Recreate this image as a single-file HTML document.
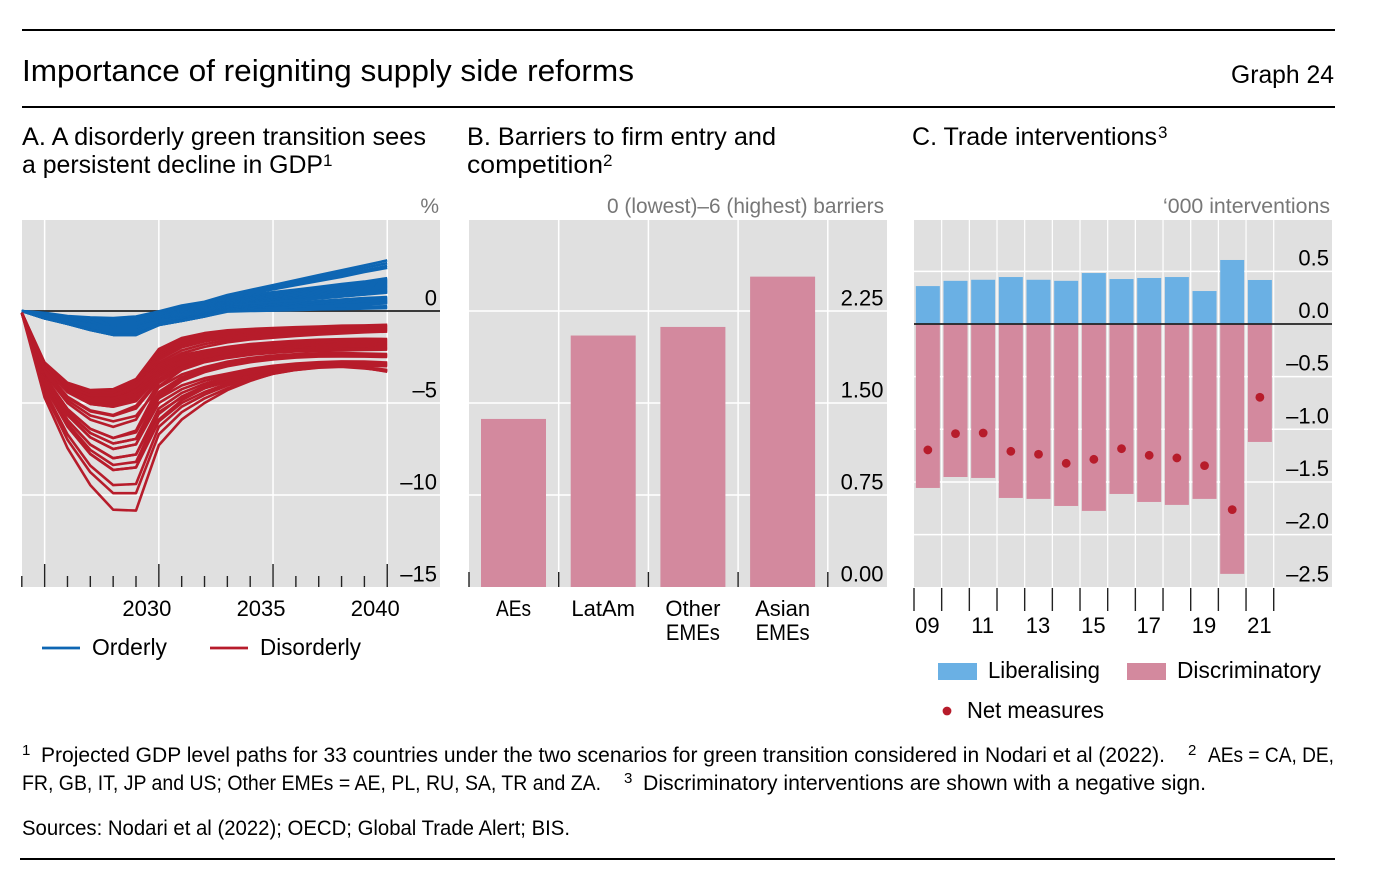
<!DOCTYPE html>
<html lang="en">
<head>
<meta charset="utf-8">
<title>Importance of reigniting supply side reforms</title>
<style>
html,body{margin:0;padding:0;background:#fff;width:1390px;height:890px;overflow:hidden}
svg{display:block}
text{font-family:"Liberation Sans",Arial,sans-serif;fill:#000}
.tt{font-size:25px}
.tick{font-size:22px}
.unit{font-size:21px;fill:#777}
.fn{font-size:21px}
.sup{font-size:15px}
.tsup{font-size:17px}
</style>
</head>
<body>
<svg id="chart" width="1390" height="890" viewBox="0 0 1390 890" xmlns="http://www.w3.org/2000/svg">
  <rect x="22" y="29" width="1313" height="2" fill="#000"/>
  <text x="22" y="81" font-size="31" textLength="612" lengthAdjust="spacingAndGlyphs">Importance of reigniting supply side reforms</text>
  <text x="1231" y="83" font-size="25" textLength="103" lengthAdjust="spacingAndGlyphs">Graph 24</text>
  <rect x="22" y="106" width="1313" height="2" fill="#000"/>

  <text class="tt" x="22" y="145" textLength="404" lengthAdjust="spacingAndGlyphs">A. A disorderly green transition sees</text>
  <text class="tt" x="22" y="173" textLength="301" lengthAdjust="spacingAndGlyphs">a persistent decline in GDP</text>
  <text class="tsup" x="323" y="166">1</text>
  <text class="tt" x="467" y="145" textLength="309" lengthAdjust="spacingAndGlyphs">B. Barriers to firm entry and</text>
  <text class="tt" x="467" y="173" textLength="136" lengthAdjust="spacingAndGlyphs">competition</text>
  <text class="tsup" x="603" y="166">2</text>
  <text class="tt" x="912" y="145" textLength="245" lengthAdjust="spacingAndGlyphs">C. Trade interventions</text>
  <text class="tsup" x="1158" y="138">3</text>

  <text class="unit" x="439" y="213" text-anchor="end">%</text>
  <text class="unit" x="607" y="213" textLength="277" lengthAdjust="spacingAndGlyphs">0 (lowest)–6 (highest) barriers</text>
  <text class="unit" x="1163" y="213" textLength="167" lengthAdjust="spacingAndGlyphs">‘000 interventions</text>

  <rect x="22" y="220" width="418" height="367" fill="#e0e0e0"/>
  <rect x="469" y="220" width="418" height="367" fill="#e0e0e0"/>
  <rect x="914" y="220" width="418" height="367" fill="#e0e0e0"/>
  <g id="panelA"></g>
  <g id="panelB"></g>
  <g id="panelC"></g>

  <line x1="42" x2="80" y1="648" y2="648" stroke="#0e66b3" stroke-width="2.8"/>
  <text x="92" y="655" font-size="23" textLength="75" lengthAdjust="spacingAndGlyphs">Orderly</text>
  <line x1="210" x2="248" y1="648" y2="648" stroke="#b71c2b" stroke-width="2.8"/>
  <text x="260" y="655" font-size="23" textLength="101" lengthAdjust="spacingAndGlyphs">Disorderly</text>

  <rect x="938" y="663" width="39" height="17" fill="#6ab0e4"/>
  <text x="988" y="678" font-size="23" textLength="112" lengthAdjust="spacingAndGlyphs">Liberalising</text>
  <rect x="1127" y="663" width="39" height="17" fill="#d3899e"/>
  <text x="1177" y="678" font-size="23" textLength="144" lengthAdjust="spacingAndGlyphs">Discriminatory</text>
  <circle cx="947" cy="711" r="4.4" fill="#b71c2b"/>
  <text x="967" y="718" font-size="23" textLength="137" lengthAdjust="spacingAndGlyphs">Net measures</text>

  <text class="sup" x="22" y="755">1</text>
  <text class="fn" x="41" y="762" textLength="1124" lengthAdjust="spacingAndGlyphs">Projected GDP level paths for 33 countries under the two scenarios for green transition considered in Nodari et al (2022).</text>
  <text class="sup" x="1188" y="755">2</text>
  <text class="fn" x="1208" y="762" textLength="126" lengthAdjust="spacingAndGlyphs">AEs = CA, DE,</text>
  <text class="fn" x="22" y="790" textLength="579" lengthAdjust="spacingAndGlyphs">FR, GB, IT, JP and US; Other EMEs = AE, PL, RU, SA, TR and ZA.</text>
  <text class="sup" x="624" y="783">3</text>
  <text class="fn" x="643" y="790" textLength="563" lengthAdjust="spacingAndGlyphs">Discriminatory interventions are shown with a negative sign.</text>
  <text class="fn" x="22" y="835" textLength="548" lengthAdjust="spacingAndGlyphs">Sources: Nodari et al (2022); OECD; Global Trade Alert; BIS.</text>
  <rect x="20" y="858" width="1315" height="2" fill="#000"/>
</svg>

<script>
// ---------- Panel A data ----------
const yearsA = [2024,2025,2026,2027,2028,2029,2030,2031,2032,2033,2034,2035,2036,2037,2038,2039,2040];
const yTicksA = [0,-5,-10,-15];
const yTickLabelsA = ["0","–5","–10","–15"];
const xLabelYearsA = [2030,2035,2040];
const orderly = [
[0,-.1,-.27,-.35,-.38,-.3,-.02,.3,.5,.87,1.14,1.41,1.68,1.95,2.21,2.48,2.75],
[0,-.12,-.3,-.4,-.45,-.35,-.05,.27,.47,.82,1.07,1.33,1.58,1.84,2.09,2.35,2.6],
[0,-.14,-.32,-.45,-.5,-.4,-.08,.25,.45,.78,1.02,1.25,1.49,1.73,1.97,2.21,2.45],
[0,-.15,-.35,-.5,-.55,-.45,-.1,.22,.42,.72,.95,1.18,1.41,1.63,1.86,2.12,2.35],
[0,-.15,-.35,-.48,-.55,-.45,-.1,.2,.4,.72,.87,1.02,1.16,1.31,1.46,1.6,1.78],
[0,-.16,-.38,-.52,-.6,-.5,-.14,.18,.37,.68,.83,.97,1.12,1.26,1.41,1.55,1.72],
[0,-.18,-.4,-.56,-.65,-.55,-.18,.15,.34,.64,.78,.93,1.07,1.21,1.36,1.5,1.67],
[0,-.2,-.42,-.6,-.7,-.6,-.22,.12,.31,.6,.74,.89,1.03,1.17,1.31,1.46,1.62],
[0,-.22,-.45,-.64,-.75,-.66,-.26,.1,.28,.58,.72,.86,.99,1.13,1.27,1.41,1.57],
[0,-.24,-.47,-.68,-.8,-.72,-.3,.07,.25,.55,.69,.82,.96,1.09,1.23,1.36,1.52],
[0,-.26,-.5,-.72,-.85,-.78,-.34,.04,.22,.52,.65,.79,.92,1.05,1.18,1.32,1.47],
[0,-.28,-.52,-.76,-.9,-.84,-.38,.01,.19,.5,.63,.76,.89,1.01,1.14,1.27,1.42],
[0,-.3,-.55,-.8,-.95,-.9,-.42,-.02,.16,.46,.59,.71,.84,.97,1.1,1.22,1.37],
[0,-.32,-.57,-.84,-1,-.96,-.46,-.06,.13,.44,.56,.69,.81,.93,1.05,1.18,1.32],
[0,-.34,-.6,-.88,-1.05,-1.02,-.5,-.1,.1,.4,.52,.64,.76,.89,1.01,1.13,1.27],
[0,-.36,-.62,-.92,-1.1,-1.08,-.54,-.14,.07,.38,.5,.61,.73,.85,.97,1.08,1.22],
[0,-.38,-.65,-.95,-1.15,-1.14,-.58,-.18,.04,.35,.46,.58,.69,.81,.92,1.04,1.17],
[0,-.4,-.67,-1,-1.2,-1.2,-.62,-.22,.01,.33,.44,.55,.66,.77,.88,.99,1.12],
[0,-.38,-.68,-1.02,-1.25,-1.25,-.66,-.26,-.02,.3,.41,.51,.62,.73,.84,.94,1.08],
[0,-.4,-.7,-1.03,-1.3,-1.3,-.72,-.3,-.06,.28,.38,.49,.59,.69,.79,.9,1.04],
[0,-.4,-.7,-1,-1.28,-1.28,-.76,-.34,-.1,.25,.36,.46,.57,.68,.79,.89,1],
[0,-.3,-.6,-.85,-1,-1,-.6,-.4,-.14,.22,.3,.38,.46,.54,.62,.7,.76],
[0,-.28,-.58,-.8,-.95,-.95,-.55,-.38,-.16,.2,.27,.35,.42,.5,.57,.65,.71],
[0,-.32,-.62,-.9,-1.1,-1.1,-.65,-.42,-.18,.18,.25,.32,.39,.46,.53,.6,.66],
[0,-.34,-.64,-.95,-1.15,-1.15,-.7,-.45,-.2,.15,.22,.28,.35,.42,.49,.55,.61],
[0,-.36,-.66,-.98,-1.2,-1.2,-.72,-.48,-.22,.12,.18,.25,.31,.38,.44,.51,.56],
[0,-.25,-.5,-.75,-.9,-.88,-.6,-.5,-.24,.1,.16,.22,.28,.34,.4,.46,.52],
[0,-.3,-.55,-.8,-1.05,-1.05,-.66,-.52,-.26,.08,.14,.19,.25,.3,.36,.41,.48],
[0,-.33,-.6,-.88,-1.12,-1.12,-.7,-.53,-.28,.06,.11,.17,.22,.27,.32,.38,.45],
[0,-.35,-.65,-.95,-1.22,-1.22,-.74,-.54,-.29,.04,.09,.14,.19,.25,.3,.35,.42],
[0,-.4,-.68,-1,-1.27,-1.27,-.76,-.54,-.3,.02,.06,.09,.13,.16,.2,.23,.26],
[0,-.38,-.7,-1.03,-1.3,-1.3,-.76,-.54,-.3,0,.03,.06,.09,.11,.14,.17,.2],
[0,-.4,-.7,-1.03,-1.3,-1.3,-.76,-.54,-.3,-.03,0,.02,.05,.08,.1,.13,.16]
];
const disorderly = [
[-.1,-2.8,-3.9,-4.3,-4.25,-3.7,-2.07,-1.47,-1.2,-1.05,-.98,-.93,-.88,-.84,-.8,-.78,-.75],
[-.1,-2.85,-3.95,-4.4,-4.35,-3.8,-2.2,-1.58,-1.3,-1.14,-1.05,-.99,-.94,-.9,-.86,-.83,-.8],
[-.1,-2.9,-4,-4.5,-4.45,-3.9,-2.32,-1.68,-1.39,-1.22,-1.12,-1.05,-1,-.95,-.91,-.88,-.85],
[-.1,-2.95,-4.05,-4.6,-4.55,-4,-2.44,-1.78,-1.48,-1.3,-1.19,-1.12,-1.06,-1.01,-.97,-.93,-.9],
[-.1,-2.95,-4.1,-4.65,-4.65,-4.1,-2.55,-1.88,-1.57,-1.38,-1.26,-1.18,-1.12,-1.06,-1.02,-.98,-.95],
[-.1,-3,-4.15,-4.7,-4.75,-4.2,-2.66,-1.98,-1.66,-1.47,-1.34,-1.25,-1.18,-1.12,-1.07,-1.03,-1],
[-.1,-3,-4.2,-4.75,-4.85,-4.3,-2.8,-2.14,-1.8,-1.58,-1.43,-1.33,-1.25,-1.18,-1.13,-1.09,-1.05],
[-.1,-3.05,-4.25,-4.85,-4.95,-4.4,-2.93,-2.3,-1.95,-1.7,-1.55,-1.45,-1.36,-1.28,-1.22,-1.16,-1.12],
[-.1,-2.9,-4.1,-4.6,-4.6,-4.1,-2.95,-2.4,-2.15,-1.95,-1.8,-1.7,-1.62,-1.56,-1.53,-1.51,-1.52],
[-.1,-3,-4.2,-4.75,-4.8,-4.35,-3.05,-2.5,-2.22,-2.02,-1.88,-1.78,-1.7,-1.65,-1.61,-1.58,-1.58],
[-.1,-3,-4.25,-4.8,-4.9,-4.5,-3.15,-2.58,-2.28,-2.08,-1.95,-1.85,-1.77,-1.72,-1.68,-1.65,-1.64],
[-.1,-3.05,-4.3,-4.9,-5,-4.6,-3.25,-2.65,-2.35,-2.15,-2,-1.9,-1.83,-1.78,-1.75,-1.72,-1.7],
[-.1,-3.1,-4.35,-5,-5.1,-4.7,-3.35,-2.72,-2.42,-2.2,-2.05,-1.96,-1.89,-1.84,-1.81,-1.78,-1.76],
[-.1,-3.08,-4.41,-5.05,-5.2,-4.8,-3.45,-2.8,-2.48,-2.25,-2.1,-2,-1.94,-1.9,-1.87,-1.85,-1.82],
[-.1,-3.08,-4.41,-5.05,-5.2,-4.9,-3.55,-2.9,-2.55,-2.32,-2.17,-2.07,-2,-1.96,-1.93,-1.91,-1.88],
[-.1,-3.2,-4.66,-5.4,-5.65,-5.15,-3.7,-3,-2.62,-2.38,-2.22,-2.12,-2.05,-2,-1.98,-1.97,-1.94],
[-.1,-3.22,-4.7,-5.45,-5.7,-5.3,-3.8,-3.05,-2.66,-2.42,-2.26,-2.16,-2.09,-2.05,-2.03,-2.03,-2],
[-.1,-3.4,-5,-5.9,-6.3,-5.9,-3.9,-3.1,-2.7,-2.45,-2.3,-2.2,-2.13,-2.1,-2.08,-2.06,-2.05],
[-.1,-3.57,-5.33,-6.4,-6.9,-6.5,-4.1,-3.2,-2.78,-2.55,-2.38,-2.27,-2.2,-2.17,-2.14,-2.12,-2.1],
[-.1,-3.3,-4.85,-5.68,-6,-5.7,-4.15,-3.45,-3.05,-2.75,-2.55,-2.42,-2.35,-2.3,-2.29,-2.31,-2.34],
[-.1,-3.57,-5.33,-6.4,-6.9,-6.6,-4.4,-3.6,-3.15,-2.85,-2.65,-2.5,-2.42,-2.37,-2.36,-2.37,-2.4],
[-.1,-3.65,-5.5,-6.63,-7.2,-6.95,-4.55,-3.7,-3.25,-2.93,-2.72,-2.58,-2.48,-2.43,-2.42,-2.43,-2.45],
[-.1,-3.74,-5.66,-6.87,-7.5,-7.25,-4.7,-3.8,-3.32,-3,-2.78,-2.63,-2.53,-2.48,-2.47,-2.48,-2.5],
[-.1,-3.65,-5.5,-6.63,-7.2,-6.95,-4.75,-4.05,-3.65,-3.4,-3.15,-2.98,-2.86,-2.78,-2.74,-2.75,-2.8],
[-.1,-3.74,-5.66,-6.87,-7.5,-7.25,-5,-4.25,-3.8,-3.5,-3.25,-3.05,-2.93,-2.85,-2.8,-2.81,-2.85],
[-.1,-3.89,-5.93,-7.26,-8,-7.8,-5.3,-4.45,-3.95,-3.6,-3.33,-3.13,-3,-2.92,-2.88,-2.88,-2.9],
[-.1,-4,-6.12,-7.55,-8.37,-8.2,-5.6,-4.65,-4.08,-3.7,-3.42,-3.2,-3.06,-2.97,-2.94,-2.94,-2.95],
[-.1,-4.07,-6.27,-7.77,-8.64,-8.5,-5.9,-4.85,-4.2,-3.8,-3.5,-3.27,-3.1,-3,-2.97,-2.98,-3],
[-.1,-3.89,-5.93,-7.26,-8,-7.8,-5.5,-4.7,-4.2,-3.85,-3.55,-3.3,-3.12,-3.02,-2.98,-3.06,-3.2],
[-.1,-4.07,-6.27,-7.77,-8.64,-8.5,-6,-5,-4.4,-3.95,-3.62,-3.36,-3.17,-3.05,-3,-3.08,-3.22],
[-.1,-4.3,-6.7,-8.4,-9.46,-9.4,-6.3,-5.2,-4.55,-4.05,-3.68,-3.4,-3.2,-3.08,-3.03,-3.12,-3.25],
[-.1,-4.44,-7,-8.76,-9.9,-9.9,-6.7,-5.5,-4.75,-4.2,-3.75,-3.42,-3.2,-3.06,-3,-3.1,-3.28],
[-.1,-4.7,-7.45,-9.46,-10.8,-10.85,-7.3,-5.9,-5,-4.3,-3.8,-3.4,-3.15,-3,-2.95,-3.1,-3.3]
];

// ---------- Panel B data ----------
const categoriesB = [["AEs"],["LatAm"],["Other","EMEs"],["Asian","EMEs"]];
const barriers = [1.37,2.05,2.12,2.53];
const yTicksB = [0,0.75,1.5,2.25];
const yTickLabelsB = ["0.00","0.75","1.50","2.25"];

// ---------- Panel C data ----------
const yearsC = ["09","10","11","12","13","14","15","16","17","18","19","20","21"];
const liberalising = [.36,.41,.42,.446,.42,.41,.484,.427,.437,.446,.313,.608,.418];
const discriminatory = [-1.557,-1.453,-1.462,-1.652,-1.661,-1.728,-1.775,-1.614,-1.69,-1.718,-1.661,-2.373,-1.12];
const netMeasures = [-1.196,-1.041,-1.035,-1.209,-1.237,-1.323,-1.285,-1.184,-1.247,-1.272,-1.345,-1.763,-.696];
const yTicksC = [0.5,0,-0.5,-1,-1.5,-2,-2.5];
const yTickLabelsC = ["0.5","0.0","–0.5","–1.0","–1.5","–2.0","–2.5"];
const xLabelYearsC = ["09","11","13","15","17","19","21"];

const NS = "http://www.w3.org/2000/svg";
function mk(parent, tag, attrs, content) {
  const el = document.createElementNS(NS, tag);
  for (const k in attrs) el.setAttribute(k, attrs[k]);
  if (content !== undefined) el.textContent = content;
  parent.appendChild(el);
  return el;
}

// ---------- Panel A ----------
(function () {
  const g = document.getElementById("panelA");
  const xA = y => 21.8 + (y - 2024) * 22.84;
  const yA = v => 311 - v * 18.4;
  yTicksA.slice(1, 3).forEach(v => {
    const el = mk(g, "line", {x1: 22, x2: 440, y1: yA(v), y2: yA(v), stroke: "#fff", "stroke-width": 1.5});
    
    
  });
  xLabelYearsA.concat([2025]).forEach(y => {
    const el = mk(g, "line", {x1: xA(y), x2: xA(y), y1: 220, y2: 587, stroke: "#fff", "stroke-width": 1.5});
    
    
  });
  const zero = mk(g, "line", {x1: 22, x2: 440, y1: yA(0), y2: yA(0), stroke: "#222", "stroke-width": 1.7});
  
  
  const draw = (rows, colour, name) => rows.forEach(r => {
    const d = r.map((v, i) => (i ? "L" : "M") + xA(yearsA[i]).toFixed(1) + " " + yA(v).toFixed(1)).join("");
    const p = mk(g, "path", {d: d, fill: "none", stroke: colour, "stroke-width": 2.6, "stroke-linejoin": "round"});
    
    
  });
  draw(orderly, "#0e66b3", "orderly-path");
  draw(disorderly, "#b71c2b", "disorderly-path");
  yearsA.forEach(y => {
    const long = (y - 2025) % 5 === 0;
    const t = mk(g, "line", {x1: xA(y), x2: xA(y), y1: long ? 564 : 576, y2: 587, stroke: "#222", "stroke-width": 1.4});
    
    
  });
  yTicksA.forEach((v, i) => {
    const t = mk(g, "text", {class: "tick", x: 437, y: yA(v) - 5.5, "text-anchor": "end"}, yTickLabelsA[i]);
    
    
  });
  xLabelYearsA.forEach(y => {
    const t = mk(g, "text", {class: "tick", x: xA(y) - 12, y: 616, "text-anchor": "middle"}, String(y));
    
    
  });
})();

// ---------- Panel B ----------
(function () {
  const g = document.getElementById("panelB");
  const step = 89.7;
  const xB = i => 469 + i * step;
  const yB = v => 587 - v * 122.67;
  yTicksB.slice(1).forEach(v => {
    const el = mk(g, "line", {x1: 469, x2: 887, y1: yB(v), y2: yB(v), stroke: "#fff", "stroke-width": 1.5});
    
    
  });
  for (let i = 1; i <= categoriesB.length; i++) {
    const el = mk(g, "line", {x1: xB(i), x2: xB(i), y1: 220, y2: 587, stroke: "#fff", "stroke-width": 1.5});
    
    
  }
  barriers.forEach((v, i) => {
    const b = mk(g, "rect", {x: xB(i) + 12, y: yB(v), width: 65, height: yB(0) - yB(v), fill: "#d3899e"});
    
    
  });
  for (let i = 0; i <= categoriesB.length; i++) {
    const t = mk(g, "line", {x1: xB(i), x2: xB(i), y1: 572, y2: 587, stroke: "#222", "stroke-width": 1.4});
    
    
  }
  yTicksB.forEach((v, i) => {
    const t = mk(g, "text", {class: "tick", x: 883.5, y: yB(v) - 5.5, "text-anchor": "end"}, yTickLabelsB[i]);
    
    
  });
  categoriesB.forEach((lines, i) => {
    lines.forEach((s, j) => {
      const t = mk(g, "text", {class: "tick", x: xB(i) + 44.5, y: 616 + j * 24, "text-anchor": "middle"}, s);
      if (s === "EMEs") t.setAttribute("textLength", 54);
      if (s === "AEs") t.setAttribute("textLength", 35);
      if (s === "EMEs" || s === "AEs") t.setAttribute("lengthAdjust", "spacingAndGlyphs");
      
      
    });
  });
})();

// ---------- Panel C ----------
(function () {
  const g = document.getElementById("panelC");
  const step = 27.67;
  const xC = i => 914 + i * step;
  const yC = v => 324 - v * 105.3;
  yTicksC.forEach(v => {
    if (v === 0 || v === -2.5) return;
    const el = mk(g, "line", {x1: 914, x2: 1332, y1: yC(v), y2: yC(v), stroke: "#fff", "stroke-width": 1.5});
    
    
  });
  for (let i = 1; i <= yearsC.length; i++) {
    const el = mk(g, "line", {x1: xC(i), x2: xC(i), y1: 220, y2: 587, stroke: "#fff", "stroke-width": 1.2});
    
    
  }
  yearsC.forEach((label, i) => {
    const left = xC(i) + (step - 24) / 2;
    const up = mk(g, "rect", {x: left, y: yC(liberalising[i]), width: 24, height: yC(0) - yC(liberalising[i]), fill: "#6ab0e4"});
    
    
    const down = mk(g, "rect", {x: left, y: yC(0), width: 24, height: yC(discriminatory[i]) - yC(0), fill: "#d3899e"});
    
    
  });
  const zero = mk(g, "line", {x1: 914, x2: 1332, y1: yC(0), y2: yC(0), stroke: "#222", "stroke-width": 1.7});
  
  
  netMeasures.forEach((v, i) => {
    const c = mk(g, "circle", {cx: xC(i) + step / 2, cy: yC(v), r: 4.4, fill: "#b71c2b"});
    
    
  });
  for (let i = 0; i <= yearsC.length; i++) {
    const t = mk(g, "line", {x1: xC(i), x2: xC(i), y1: 588, y2: 611, stroke: "#222", "stroke-width": 1.4});
    
    
  }
  yTicksC.forEach((v, i) => {
    const t = mk(g, "text", {class: "tick", x: 1329, y: yC(v) - 6, "text-anchor": "end"}, yTickLabelsC[i]);
    
    
  });
  xLabelYearsC.forEach(s => {
    const i = yearsC.indexOf(s);
    const t = mk(g, "text", {class: "tick", x: xC(i) + step / 2 - 0.5, y: 633, "text-anchor": "middle"}, s);
    
    
  });
})();
</script>
</body>
</html>
